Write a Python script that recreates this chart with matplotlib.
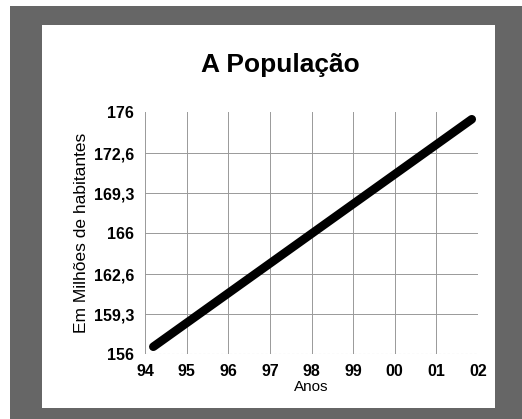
import matplotlib
matplotlib.use("Agg")
import matplotlib.pyplot as plt
from matplotlib.patches import Rectangle

plt.rcParams['font.family'] = ['Liberation Sans', 'DejaVu Sans']

# population estimate (millions), start and end of the trend line
anos = [1994.2, 2001.85]
populacao = [156.6, 175.4]

x_ticks = [1994, 1995, 1996, 1997, 1998, 1999, 2000, 2001, 2002]
x_labels = ['94', '95', '96', '97', '98', '99', '00', '01', '02']
y_ticks = [156, 159.3, 162.6, 166, 169.3, 172.6, 176]
y_labels = ['156', '159,3', '162,6', '166', '169,3', '172,6', '176']

W, H = 522, 419
fig = plt.figure(figsize=(W / 100, H / 100), dpi=100)
fig.patch.set_facecolor('white')

# grey frame with white panel inside
fig.patches.append(Rectangle((10 / W, 0), 1, (H - 6) / H, transform=fig.transFigure,
                             facecolor='#666666', edgecolor='none', zorder=-2))
fig.patches.append(Rectangle((42 / W, (H - 408) / H), (495 - 42) / W, (408 - 25) / H,
                             transform=fig.transFigure, facecolor='white',
                             edgecolor='none', zorder=-1))

ax = fig.add_axes([145 / W, (H - 354) / H, 333 / W, 242 / H])
ax.set_facecolor('none')

ax.plot(anos, populacao, color='black', lw=6.2, solid_capstyle='round', zorder=3)

ax.set_xlim(1994, 2002)
ax.set_ylim(156, 176)
ax.set_xticks(x_ticks)
ax.set_xticklabels(x_labels, fontsize=11.5, fontweight='bold')
ax.set_yticks(y_ticks)
ax.set_yticklabels(y_labels, fontsize=11.5, fontweight='bold')
ax.tick_params(axis='y', length=0, pad=8)
ax.tick_params(axis='x', length=0, pad=7)

for yv in y_ticks[1:-1]:
    ax.axhline(yv, color='#999999', lw=0.7, zorder=1)
ax.axhline(156, color='#bbbbbb', lw=0.8, ls=(0, (2, 2)), zorder=1)
for xv in x_ticks:
    ax.axvline(xv, color='#999999', lw=0.7, zorder=1)
for s in ax.spines.values():
    s.set_visible(False)

ax.set_xlabel('Anos', fontsize=11, labelpad=1)
ax.set_ylabel('Em Milhões de habitantes', fontsize=12.5, labelpad=3)

fig.text(280 / W, 1 - 65 / H, 'A População', ha='center', va='center',
         fontsize=19, fontweight='bold')

fig.savefig('out.png', dpi=100)
